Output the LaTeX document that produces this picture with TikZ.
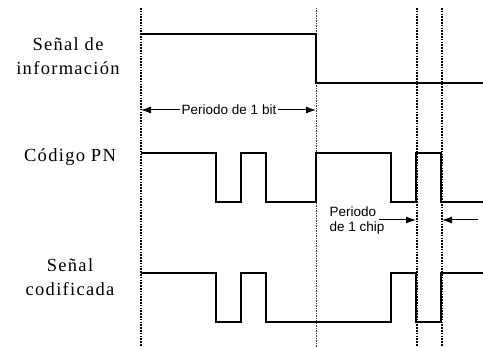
\documentclass[tikz,border=0pt]{standalone}
\usepackage{fontspec}
\setmainfont{Liberation Serif}
\newfontfamily\labelfont[LetterSpace=7]{Liberation Serif}
\newfontfamily\periodfont{Liberation Sans}
\usetikzlibrary{positioning,arrows.meta}

\tikzset{
  signal/.style={line width=1.5pt},
  gridline/.style={line width=2pt, dash pattern=on 1.6pt off 1.2pt},
  thingrid/.style={line width=0.8pt, dash pattern=on 1.2pt off 1.3pt, black!80},
  sigtext/.style={align=center, font=\labelfont\fontsize{18.5}{24}\selectfont},
  period/.style={inner sep=1.5pt, font=\periodfont\fontsize{13.5}{15}\selectfont},
  arrow/.style={-{Latex[length=10pt,width=7pt]}, line width=1pt}
}

\begin{document}
\begin{tikzpicture}[x=1pt,y=-1pt]
\useasboundingbox (0,0) rectangle (483,347);

% dotted time marks
\draw [gridline] (141,8) -- (141,347);
\draw [thingrid] (316,8) -- (316,347);
\draw [gridline] (416.5,8) -- (416.5,347);
\draw [gridline] (441.5,8) -- (441.5,347);

% signals
\draw [signal] (141,34) -- (316,34) -- (316,83) -- (483,83);

\draw [signal] (141,153) -- (216,153) -- (216,202) -- (241,202) -- (241,153)
  -- (266,153) -- (266,202) -- (316,202) -- (316,153) -- (391,153)
  -- (391,202) -- (416,202) -- (416,153) -- (441,153) -- (441,202) -- (483,202);

\draw [signal] (141,273) -- (216,273) -- (216,322) -- (241,322) -- (241,273)
  -- (266,273) -- (266,322) -- (391,322) -- (391,273) -- (416,273)
  -- (416,322) -- (441,322) -- (441,273) -- (483,273);

% labels
\node [sigtext] (info) at (68,56) {Señal de\\información};
\node [sigtext] (pn) at (70,157) {Código PN};
\node [sigtext] (coded) at (70,277) {Señal\\codificada};

% bit period
\node [period] (bit) at (229,110) {Periodo de 1 bit};
\coordinate (bitL) at (141,110);
\coordinate (bitR) at (316,110);
\draw [arrow] (bit.west) -- (bitL);
\draw [arrow] (bit.east) -- (bitR);

% chip period
\node [period, align=left] (chip) at (357,221) {Periodo\\de 1 chip};
\coordinate (chipA) at (379,220);
\coordinate (chipL) at (416,220);
\coordinate (chipB) at (478,220);
\coordinate (chipR) at (442,220);
\draw [arrow] (chipA) -- (chipL);
\draw [arrow] (chipB) -- (chipR);
\end{tikzpicture}
\end{document}
